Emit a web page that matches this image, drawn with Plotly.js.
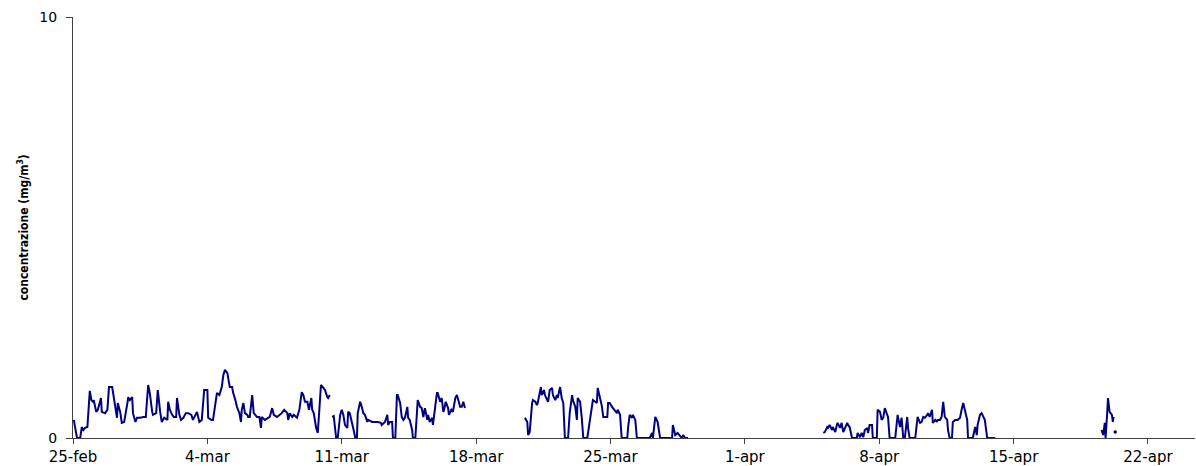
<!DOCTYPE html>
<html>
<head>
<meta charset="utf-8">
<script src="https://cdn.plot.ly/plotly-3.0.1.min.js"></script>
<style>html,body{margin:0;padding:0;background:#fff}#chart{width:1196px;height:466px}</style>
</head>
<body>
<div id="chart"></div>
<script>
// Hours elapsed since 25-feb 00:00 (null = gap in the record)
const hoursSinceStart = [
  1,5,9,11,13,15,18,21,23,25,26,29,31,35,36,40,43,45,49,50,53,55,56,59,61,64,68,69,71,74,75,78,80,84,88,91,94,96,99,100,104,106,109,111,114,118,119,121,124,126,129,130,133,135,138,141,144,148,150,154,155,158,161,164,168,169,173,175,178,180,183,186,188,190,193,194,196,199,200,203,205,208,210,211,213,215,218,219,221,224,226,230,233,235,236,240,244,246,249,251,255,258,261,264,268,269,271,274,276,280,283,286,288,290,293,295,298,299,301,304,306,308,310,313,315,318,319,321,
  null,
  324,326,329,331,334,336,338,340,343,344,346,349,350,353,355,356,359,361,363,365,368,369,374,378,381,385,386,390,393,394,396,399,400,403,405,406,409,411,413,415,418,419,421,424,425,428,430,431,434,436,438,440,443,444,446,449,450,453,455,456,459,461,463,464,466,469,470,473,475,478,480,481,484,486,488,490,
  null,
  565,568,569,571,574,575,578,580,581,584,585,586,589,590,593,594,596,599,600,603,605,606,609,611,613,615,619,621,624,625,628,630,631,634,636,638,643,646,649,650,653,655,656,659,661,663,668,669,671,674,675,678,680,681,684,686,693,694,696,699,700,703,705,711,721,724,725,728,730,731,734,749,750,753,756,761,763,765,769,
  null,
  938,940,943,944,946,949,950,953,955,956,959,961,963,965,968,969,971,974,980,981,984,986,988,990,993,994,996,999,1000,1005,1006,1009,1011,1013,1015,1018,1019,1021,1028,1031,1034,1036,1038,1040,1043,1044,1046,1053,1056,1059,1061,1063,1065,1068,1069,1071,1074,1075,1078,1080,1081,1084,1086,1088,1090,1093,1094,1096,1099,1100,1103,1106,1109,1111,1113,1115,1118,1119,1125,1128,1130,1131,1134,1136,1138,1140,1143,1150,1153,
  null,
  1286,1288,1290,1291,1293,1294,1296,1299,1300,1301
];
// Concentration, mg/m3
const concentration = [
  0.43,0,0,0.26,0.19,0.24,0.26,1.12,0.90,0.86,0.90,0.62,0.67,0.95,0.62,0.59,0.67,1.21,1.21,1.07,0.67,0.48,0.83,0.62,0.36,0.38,0.83,0.97,0.90,0.97,0.59,0.38,0.48,0.48,0.50,0.50,1.26,1.07,0.62,0.55,0.59,1.14,0.62,0.38,0.48,0.43,0.86,0.67,0.55,0.50,0.50,0.95,0.55,0.43,0.48,0.59,0.59,0.55,0.43,0.59,0.62,0.38,0.43,1.14,1.14,0.48,0.43,0.43,0.86,1.07,1.02,1.21,1.50,1.62,1.54,1.45,1.21,1.21,1.09,0.90,0.74,0.59,0.38,0.67,0.83,0.59,0.55,0.50,0.50,1.02,0.59,0.50,0.50,0.24,0.50,0.43,0.48,0.50,0.71,0.55,0.50,0.55,0.59,0.67,0.59,0.43,0.59,0.50,0.55,0.48,0.67,1.09,1.02,0.86,0.86,0.67,0.95,0.67,0.59,0.24,0.12,0.67,1.26,1.19,1.14,0.97,0.95,1.02,
  null,
  0.50,0.52,0,0,0.55,0.67,0.55,0.31,0.24,0.62,0.59,0.38,0.26,0,0,0.59,0.86,0.74,0.59,0.55,0.38,0.43,0.38,0.38,0.38,0.36,0.31,0.38,0.55,0.31,0.38,0.38,0,0,1.02,1.02,0.83,0.50,0.43,0.48,0.74,0.48,0.43,0.19,0,0,0.86,0.90,0.74,0.71,0.50,0.71,0.43,0.55,0.38,0.48,0.31,0.71,1.07,1.07,0.86,0.95,0.62,0.67,0.86,0.71,0.55,0.67,0.62,0.95,1.02,0.95,0.74,0.74,0.86,0.71,
  null,
  0.48,0.38,0.07,0.14,0.83,0.90,0.86,0.78,0.83,1.09,1.21,1.02,1.14,1.02,0.90,0.86,1.14,1.19,1.02,0.90,1.02,0.95,1.21,0.95,0.83,0,0,0.59,1.02,0.90,0.74,0.43,0.95,0.86,0.50,0,0,0.43,0.83,0.90,0.86,0.83,1.19,0.97,0.78,0.50,0.50,0.83,0.83,0.74,0.71,0.62,0.59,0.67,0.55,0,0,0.24,0.55,0.48,0.55,0.43,0,0,0,0.12,0,0.50,0.43,0.38,0,0,0.31,0.07,0.12,0,0.07,0,0,
  null,
  0.12,0.14,0.26,0.24,0.31,0.19,0.26,0.14,0.31,0.36,0.24,0.36,0.14,0.24,0.36,0.31,0.26,0,0,0.12,0.02,0.12,0.02,0.19,0.24,0.12,0.31,0.31,0,0,0.67,0.62,0.43,0.48,0.71,0.55,0.50,0,0,0.55,0.26,0.48,0,0,0.50,0.24,0,0,0.50,0.36,0.38,0.50,0.48,0.55,0.59,0.50,0.67,0.36,0.43,0.38,0.43,0.43,0.50,0.86,0.50,0.43,0.19,0,0,0.38,0.43,0.43,0.48,0.67,0.83,0.67,0.43,0,0,0.26,0.07,0.31,0.55,0.59,0.50,0.43,0,0,0,
  null,
  0.19,0.07,0.36,0,0.59,0.95,0.62,0.55,0.38,0.50
];
// Single isolated reading
const isolatedHours = [1303];
const isolatedValues = [0.14];

const tickDates = ['2007-02-25','2007-03-04','2007-03-11','2007-03-18','2007-03-25','2007-04-01','2007-04-08','2007-04-15','2007-04-22'];
const tickLabels = ['25-feb','4-mar','11-mar','18-mar','25-mar','1-apr','8-apr','15-apr','22-apr'];

const startMs = Date.UTC(2007, 1, 25, 0, 0, 0);
function pad(n){return (n<10?'0':'')+n;}
function toDate(h){
  if (h === null) return null;
  const d = new Date(startMs + h*3600000);
  return d.getUTCFullYear()+'-'+pad(d.getUTCMonth()+1)+'-'+pad(d.getUTCDate())+' '+pad(d.getUTCHours())+':'+pad(d.getUTCMinutes());
}

const traces = [
  {x: hoursSinceStart.map(toDate), y: concentration, type: 'scatter', mode: 'lines',
   line: {color: '#000080', width: 2}, connectgaps: false, hoverinfo: 'x+y'},
  {x: isolatedHours.map(toDate), y: isolatedValues, type: 'scatter', mode: 'markers',
   marker: {color: '#000080', size: 3.5}}
];

const layout = {
  width: 1196, height: 466,
  margin: {l: 73, r: 1, t: 17, b: 28},
  paper_bgcolor: '#ffffff', plot_bgcolor: '#ffffff',
  showlegend: false,
  font: {family: 'DejaVu Sans, Verdana, sans-serif', size: 14, color: '#000'},
  xaxis: {
    type: 'date',
    range: ['2007-02-25 00:00', '2007-04-24 10:48'],
    tickvals: tickDates, ticktext: tickLabels,
    ticks: 'outside', ticklen: 5, tickcolor: '#404040', tickwidth: 1,
    showline: true, linecolor: '#404040', linewidth: 1,
    showgrid: false, zeroline: false,
    tickfont: {family: 'DejaVu Sans, Verdana, sans-serif', size: 15, color: '#000'}
  },
  yaxis: {
    range: [0, 10],
    tickvals: [0, 10], ticktext: ['0', '10'],
    ticks: 'outside', ticklen: 6, tickcolor: '#404040', tickwidth: 1,
    ticklabelstandoff: 6,
    showline: true, linecolor: '#404040', linewidth: 1,
    showgrid: true, gridcolor: '#a6a6a6', gridwidth: 1.5,
    zeroline: false,
    tickfont: {family: 'DejaVu Sans, Verdana, sans-serif', size: 14, color: '#000'},
    title: {text: '<b>concentrazione (mg/m<sup>3</sup>)</b>', standoff: 8,
            font: {family: 'DejaVu Sans Condensed, Liberation Sans Narrow, Liberation Sans, sans-serif', size: 12, color: '#000'}}
  }
};

Plotly.newPlot('chart', traces, layout, {displayModeBar: false, staticPlot: true});
</script>
</body>
</html>
